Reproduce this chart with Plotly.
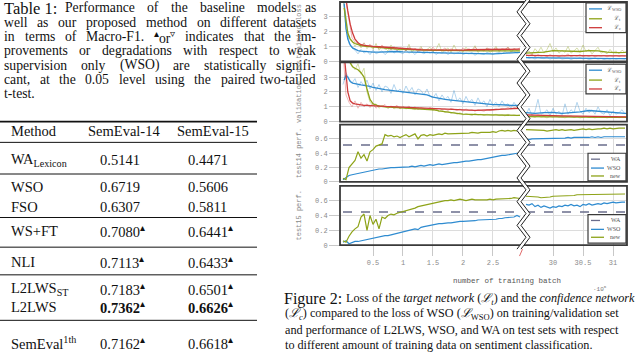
"""Recreate the Table 1 / Figure 2 page crop: baseline table plus L2LWS training curves."""

import re

import plotly.graph_objects as go

W, H = 640, 352

# ---------------- table data ----------------
methods = ["WA<sub>Lexicon</sub>", "WSO", "FSO", "WS+FT", "NLI", "L2LWS<sub>ST</sub>", "L2LWS", "SemEval<sup>1th</sup>"]
semeval14 = [0.5141, 0.6719, 0.6307, 0.7080, 0.7113, 0.7183, 0.7362, 0.7162]
semeval15 = [0.4471, 0.5606, 0.5811, 0.6441, 0.6433, 0.6501, 0.6626, 0.6618]
significant = [False, False, False, True, True, True, True, True]
best = [False, False, False, False, False, False, True, False]

# ---------------- figure data ----------------
batch_left = [0.0, 0.05, 0.1, 0.15, 0.2, 0.25, 0.3, 0.35, 0.4, 0.45,
              0.5, 0.55, 0.6, 0.65, 0.7, 0.75, 0.8, 0.85, 0.9, 0.95,
              1.0, 1.05, 1.1, 1.15, 1.2, 1.25, 1.3, 1.35, 1.4, 1.45,
              1.5, 1.55, 1.6, 1.65, 1.7, 1.75, 1.8, 1.85, 1.9, 1.95,
              2.0, 2.05, 2.1, 2.15, 2.2, 2.25, 2.3, 2.35, 2.4, 2.45,
              2.5, 2.55, 2.6, 2.65, 2.7, 2.75, 2.8, 2.85, 2.9, 2.95]
batch_right = [29.55, 29.6, 29.65, 29.7, 29.75, 29.8, 29.85, 29.9, 29.95, 30.0,
               30.05, 30.1, 30.15, 30.2, 30.25, 30.3, 30.35, 30.4, 30.45, 30.5,
               30.55, 30.6, 30.65, 30.7, 30.75, 30.8, 30.85, 30.9, 30.95, 31.0,
               31.05, 31.1, 31.15, 31.2]
smooth_left = [0.02, 0.05, 0.08, 0.12, 0.16, 0.2, 0.25, 0.3, 0.35, 0.4,
               0.45, 0.5, 0.6, 0.7, 0.8, 0.9, 1.0, 1.1, 1.2, 1.3,
               1.4, 1.5, 1.6, 1.7, 1.8, 1.9, 2.0, 2.1, 2.2, 2.3,
               2.4, 2.5, 2.6, 2.7, 2.8, 2.9, 2.95]
smooth_right = [29.55, 29.7, 29.85, 30.0, 30.15, 30.3, 30.45, 30.6, 30.75, 30.9, 31.05, 31.2, 31.23]

# training loss, raw (faint) and smoothed
train_wso_raw_left = [4.2, 3.0, 1.2, 0.9, 0.75, 0.5, 0.8, 0.55, 0.7, 0.45,
                      0.75, 0.5, 0.6, 0.7, 0.45, 0.65, 0.8, 0.55, 0.7, 0.6,
                      0.5, 0.75, 0.55, 0.65, 0.45, 0.7, 0.6, 0.5, 0.65, 0.55,
                      0.7, 0.45, 0.6, 0.55, 0.65, 0.45, 0.6, 0.5, 0.55, 0.65,
                      0.45, 0.55, 0.5, 0.6, 0.4, 0.55, 0.5, 0.45, 0.6, 0.5,
                      0.45, 0.55, 0.6, 0.5, 0.65, 0.55, 0.6, 0.7, 0.55, 0.6]
train_t_raw_left = [4.5, 2.2, 1.6, 1.4, 1.0, 1.3, 0.9, 1.2, 0.85, 1.1,
                    0.8, 1.2, 0.75, 1.0, 0.9, 0.7, 1.1, 0.8, 0.95, 0.65,
                    0.9, 0.7, 1.15, 0.6, 0.85, 0.75, 1.0, 0.6, 0.8, 0.95,
                    0.65, 0.8, 1.2, 0.6, 0.75, 0.9, 0.6, 1.1, 0.7, 0.8,
                    0.6, 0.95, 0.7, 0.75, 1.05, 0.6, 0.8, 0.7, 0.9, 0.6,
                    0.75, 1.0, 0.65, 0.8, 0.7, 0.95, 0.6, 0.85, 0.7, 0.8]
train_c_raw_left = [4.6, 4.0, 2.8, 1.6, 1.3, 1.2, 1.0, 1.25, 0.95, 1.15,
                    0.9, 1.05, 0.85, 1.1, 0.8, 0.95, 0.75, 1.0, 0.7, 0.9,
                    0.85, 0.7, 0.95, 0.75, 0.85, 0.65, 0.9, 0.75, 0.8, 0.7,
                    0.95, 0.7, 0.8, 0.75, 0.9, 0.65, 0.85, 0.75, 0.8, 0.7,
                    0.9, 0.75, 0.85, 0.7, 0.95, 0.75, 0.8, 0.7, 0.9, 0.8,
                    0.75, 0.9, 0.7, 0.85, 0.8, 0.95, 0.75, 0.85, 0.8, 0.9]
train_wso_raw_right = [0.3, 0.2, 0.25, 0.15, 0.28, 0.2, 0.18, 0.25, 0.15, 0.22,
                       0.18, 0.25, 0.15, 0.2, 0.22, 0.12, 0.2, 0.18, 0.25, 0.15,
                       0.2, 0.12, 0.18, 0.22, 0.15, 0.2, 0.12, 0.18, 0.15, 0.22,
                       0.15, 0.2, 0.18, 0.15]
train_t_raw_right = [0.5, 0.7, 0.45, 0.85, 0.6, 0.95, 0.55, 0.8, 1.2, 0.65,
                     0.9, 0.55, 0.75, 0.6, 1.0, 0.55, 0.7, 0.9, 0.6, 1.1,
                     0.65, 0.8, 0.5, 0.75, 0.95, 0.55, 0.65, 0.5, 0.8, 0.55,
                     0.7, 0.5, 0.75, 0.6]
train_c_raw_right = [0.45, 0.35, 0.5, 0.3, 0.45, 0.35, 0.4, 0.3, 0.45, 0.35,
                     0.4, 0.3, 0.42, 0.35, 0.5, 0.3, 0.4, 0.35, 0.45, 0.3,
                     0.38, 0.32, 0.42, 0.3, 0.38, 0.35, 0.4, 0.3, 0.38, 0.33,
                     0.4, 0.32, 0.38, 0.35]
train_wso_left = [3.9, 2.2, 1.5, 1.1, 0.9, 0.8, 0.72, 0.68, 0.66, 0.65,
                  0.64, 0.62, 0.62, 0.63, 0.68, 0.66, 0.63, 0.61, 0.6, 0.6,
                  0.58, 0.58, 0.57, 0.56, 0.55, 0.53, 0.52, 0.5, 0.5, 0.5,
                  0.48, 0.5, 0.52, 0.55, 0.58, 0.6, 0.6]
train_t_left = [3.6, 2.6, 1.9, 1.5, 1.3, 1.2, 1.1, 1.05, 1.02, 1.0,
                0.97, 0.95, 0.92, 0.88, 0.85, 0.82, 0.8, 0.78, 0.76, 0.75,
                0.75, 0.74, 0.73, 0.72, 0.72, 0.72, 0.72, 0.71, 0.71, 0.7,
                0.7, 0.7, 0.7, 0.7, 0.7, 0.7, 0.7]
train_c_left = [4.5, 4.2, 3.4, 2.5, 1.9, 1.5, 1.25, 1.12, 1.08, 1.05,
                1.02, 1.0, 0.98, 0.95, 0.9, 0.86, 0.83, 0.8, 0.78, 0.78,
                0.77, 0.76, 0.77, 0.78, 0.77, 0.76, 0.76, 0.78, 0.79, 0.8,
                0.8, 0.8, 0.8, 0.8, 0.82, 0.82, 0.82]
train_wso_right = [0.25, 0.24, 0.23, 0.22, 0.2, 0.2, 0.2, 0.18, 0.17, 0.17, 0.18, 0.18, 0.18]
train_t_right = [0.55, 0.58, 0.62, 0.72, 0.7, 0.65, 0.66, 0.72, 0.7, 0.62, 0.58, 0.6, 0.62]
train_c_right = [0.4, 0.38, 0.37, 0.36, 0.37, 0.38, 0.37, 0.36, 0.35, 0.35, 0.36, 0.36, 0.36]

# validation loss, raw (faint) and smoothed
valid_wso_raw_left = [2.5, 3.3, 2.9, 2.6, 2.9, 2.3, 2.7, 2.4, 2.8, 2.2,
                      2.6, 2.1, 2.5, 2.0, 2.4, 2.3, 1.9, 2.5, 2.0, 2.2,
                      1.9, 2.4, 2.0, 2.3, 1.8, 2.2, 2.1, 1.8, 2.2, 1.7,
                      1.6, 1.9, 1.4, 1.8, 1.5, 1.7, 1.3, 2.1, 1.4, 1.6,
                      1.2, 1.7, 1.3, 1.5, 1.1, 1.6, 1.2, 1.4, 1.0, 1.5,
                      1.1, 1.3, 1.0, 1.4, 1.1, 1.2, 0.9, 1.3, 1.0, 1.2]
valid_t_raw_left = [4.8, 4.5, 4.3, 3.8, 3.5, 3.9, 3.2, 3.6, 2.0, 1.3,
                    1.1, 1.2, 0.9, 1.1, 1.0, 0.9, 1.05, 0.85, 1.0, 0.9,
                    1.0, 0.85, 0.95, 0.9, 0.8, 0.95, 0.85, 0.9, 0.8, 0.9,
                    0.75, 0.85, 0.65, 0.8, 0.6, 0.7, 0.55, 0.65, 0.5, 0.6,
                    0.45, 0.55, 0.5, 0.4, 0.55, 0.45, 0.5, 0.4, 0.5, 0.45,
                    0.4, 0.5, 0.4, 0.45, 0.38, 0.5, 0.4, 0.45, 0.4, 0.45]
valid_c_raw_left = [4.8, 1.8, 1.3, 1.0, 1.4, 0.9, 1.3, 1.0, 1.2, 0.95,
                    1.25, 0.9, 1.1, 1.0, 1.15, 0.9, 1.05, 0.95, 1.1, 0.85,
                    1.0, 0.9, 1.05, 0.85, 1.0, 0.8, 0.95, 0.9, 0.8, 0.95,
                    0.85, 0.75, 0.9, 0.8, 0.85, 0.75, 0.9, 0.8, 0.75, 0.85,
                    0.7, 0.85, 0.75, 0.8, 0.7, 0.8, 0.75, 0.7, 0.8, 0.75,
                    0.8, 0.85, 0.8, 0.9, 0.85, 0.95, 0.85, 0.95, 0.9, 1.0]
valid_wso_raw_right = [0.5, 0.9, 0.4, 0.7, 1.5, 0.5, 0.6, 0.8, 0.4, 0.9,
                       0.5, 0.7, 0.4, 1.2, 0.5, 0.8, 0.6, 1.3, 0.7, 0.5,
                       0.9, 0.6, 0.8, 0.5, 1.0, 0.6, 0.5, 0.8, 0.4, 0.7,
                       0.5, 0.6, 0.8, 0.5]
valid_t_raw_right = [0.4, 0.3, 0.35, 0.28, 0.4, 0.3, 0.33, 0.25, 0.35, 0.3,
                     0.38, 0.28, 0.32, 0.25, 0.35, 0.3, 0.28, 0.33, 0.25, 0.3,
                     0.35, 0.28, 0.3, 0.25, 0.32, 0.28, 0.3, 0.25, 0.3, 0.27,
                     0.32, 0.26, 0.3, 0.28]
valid_c_raw_right = [0.5, 0.4, 0.45, 0.38, 0.45, 0.4, 0.35, 0.42, 0.35, 0.4,
                     0.33, 0.38, 0.3, 0.36, 0.33, 0.38, 0.3, 0.35, 0.32, 0.3,
                     0.36, 0.3, 0.33, 0.28, 0.32, 0.3, 0.28, 0.34, 0.3, 0.28,
                     0.32, 0.3, 0.28, 0.3]
valid_wso_left = [2.8, 3.1, 3.0, 2.7, 2.6, 2.55, 2.5, 2.47, 2.45, 2.42,
                  2.38, 2.3, 2.2, 2.15, 2.1, 2.05, 2.0, 2.0, 1.95, 1.9,
                  1.8, 1.65, 1.55, 1.5, 1.45, 1.4, 1.35, 1.3, 1.3, 1.25,
                  1.2, 1.15, 1.15, 1.1, 1.1, 1.1, 1.1]
valid_t_left = [4.6, 4.4, 4.2, 3.9, 3.7, 3.6, 3.5, 3.3, 3.0, 2.2,
                1.5, 1.2, 1.05, 1.0, 0.98, 0.95, 0.95, 0.92, 0.9, 0.88,
                0.85, 0.8, 0.72, 0.65, 0.6, 0.55, 0.5, 0.48, 0.45, 0.45,
                0.45, 0.45, 0.43, 0.42, 0.42, 0.42, 0.42]
valid_c_left = [4.5, 3.2, 2.0, 1.4, 1.25, 1.2, 1.15, 1.12, 1.1, 1.1,
                1.1, 1.08, 1.05, 1.02, 1.0, 0.98, 0.95, 0.93, 0.92, 0.9,
                0.88, 0.85, 0.83, 0.82, 0.8, 0.8, 0.78, 0.77, 0.76, 0.76,
                0.78, 0.8, 0.82, 0.85, 0.88, 0.9, 0.9]
valid_wso_right = [0.6, 0.55, 0.6, 0.62, 0.55, 0.58, 0.65, 0.75, 0.7, 0.6, 0.55, 0.55, 0.55]
valid_t_right = [0.34, 0.33, 0.33, 0.32, 0.32, 0.31, 0.31, 0.3, 0.3, 0.3, 0.29, 0.29, 0.29]
valid_c_right = [0.45, 0.42, 0.4, 0.4, 0.38, 0.37, 0.36, 0.35, 0.34, 0.33, 0.32, 0.32, 0.32]

# test performance (Macro-F1)
test14_new_left = [0.05, 0.03, 0.2, 0.25, 0.3, 0.42, 0.33, 0.38, 0.29, 0.42,
                   0.45, 0.5, 0.52, 0.53, 0.66, 0.64, 0.65, 0.63, 0.64, 0.62,
                   0.64, 0.66, 0.63, 0.65, 0.67, 0.6, 0.65, 0.66, 0.64, 0.66,
                   0.65, 0.66, 0.67, 0.66, 0.68, 0.67, 0.67, 0.68, 0.67, 0.68,
                   0.68, 0.67, 0.68, 0.69, 0.68, 0.68, 0.69, 0.69, 0.68, 0.69,
                   0.7, 0.69, 0.71, 0.72, 0.71, 0.72, 0.71, 0.72, 0.71, 0.71]
test14_new_right = [0.73, 0.73, 0.72, 0.73, 0.72, 0.72, 0.72, 0.71, 0.72, 0.72,
                    0.73, 0.72, 0.73, 0.72, 0.73, 0.73, 0.72, 0.73, 0.73, 0.74,
                    0.73, 0.74, 0.73, 0.74, 0.74, 0.74, 0.75, 0.74, 0.75, 0.74,
                    0.75, 0.75, 0.75, 0.75]
test14_wso_left = [0.03, 0.06, 0.09, 0.1, 0.11, 0.12, 0.13, 0.14, 0.15, 0.16,
                   0.16, 0.17, 0.18, 0.18, 0.19, 0.19, 0.2, 0.2, 0.2, 0.21,
                   0.21, 0.2, 0.21, 0.22, 0.21, 0.22, 0.23, 0.22, 0.23, 0.24,
                   0.23, 0.24, 0.25, 0.24, 0.25, 0.26, 0.26, 0.27, 0.27, 0.28,
                   0.28, 0.29, 0.29, 0.3, 0.3, 0.31, 0.31, 0.32, 0.33, 0.33,
                   0.34, 0.35, 0.36, 0.37, 0.37, 0.38, 0.39, 0.39, 0.4, 0.4]
test14_wso_right = [0.6, 0.59, 0.6, 0.6, 0.61, 0.6, 0.6, 0.61, 0.6, 0.61,
                    0.61, 0.6, 0.61, 0.61, 0.62, 0.61, 0.62, 0.62, 0.61, 0.62,
                    0.62, 0.62, 0.63, 0.62, 0.63, 0.62, 0.63, 0.63, 0.63, 0.62,
                    0.63, 0.63, 0.63, 0.63]
test15_new_left = [0.06, 0.04, 0.12, 0.18, 0.22, 0.25, 0.38, 0.42, 0.2, 0.4,
                   0.28, 0.35, 0.22, 0.38, 0.36, 0.4, 0.42, 0.41, 0.43, 0.44,
                   0.45, 0.46, 0.47, 0.48, 0.5, 0.52, 0.53, 0.54, 0.55, 0.56,
                   0.57, 0.58, 0.58, 0.59, 0.6, 0.6, 0.61, 0.6, 0.61, 0.62,
                   0.61, 0.6, 0.61, 0.62, 0.61, 0.61, 0.6, 0.61, 0.61, 0.62,
                   0.61, 0.62, 0.62, 0.63, 0.62, 0.63, 0.63, 0.64, 0.63, 0.63]
test15_new_right = [0.66, 0.66, 0.66, 0.65, 0.65, 0.64, 0.64, 0.65, 0.65, 0.66,
                    0.66, 0.66, 0.67, 0.67, 0.67, 0.67, 0.67, 0.68, 0.68, 0.68,
                    0.68, 0.68, 0.68, 0.68, 0.69, 0.69, 0.69, 0.69, 0.69, 0.69,
                    0.69, 0.69, 0.69, 0.69]
test15_wso_left = [0.04, 0.06, 0.02, 0.04, 0.05, 0.05, 0.06, 0.07, 0.08, 0.09,
                   0.1, 0.1, 0.11, 0.12, 0.13, 0.13, 0.14, 0.15, 0.15, 0.16,
                   0.17, 0.18, 0.19, 0.2, 0.22, 0.21, 0.24, 0.25, 0.26, 0.27,
                   0.28, 0.28, 0.29, 0.29, 0.3, 0.3, 0.3, 0.31, 0.31, 0.32,
                   0.32, 0.32, 0.33, 0.33, 0.33, 0.34, 0.34, 0.34, 0.34, 0.35,
                   0.35, 0.35, 0.36, 0.36, 0.37, 0.37, 0.38, 0.38, 0.4, 0.38]
test15_wso_right = [0.55, 0.54, 0.56, 0.52, 0.54, 0.51, 0.53, 0.52, 0.5, 0.52,
                    0.51, 0.53, 0.52, 0.54, 0.53, 0.55, 0.53, 0.54, 0.52, 0.55,
                    0.54, 0.56, 0.54, 0.55, 0.56, 0.55, 0.57, 0.56, 0.57, 0.58,
                    0.57, 0.58, 0.58, 0.58]
WA_SEMEVAL14 = semeval14[0]
WA_SEMEVAL15 = semeval15[0]

left_ticks = [0.5, 1, 1.5, 2, 2.5]
left_ticktext = ["0.5", "1", "1.5", "2", "2.5"]
right_ticks = [30, 30.5, 31]
right_ticktext = ["30", "30.5", "31"]
loss_ticks = [0, 1, 2, 3]
loss_ticktext = ["0", "1", "2", "3"]
perf_ticks = [0, 0.2, 0.4, 0.6]
perf_ticktext = ["0", "0.2", "0.4", "0.6"]

BLUE = "#2e8bd0"
OLIVE = "#8ea318"
RED = "#cf3b3b"
WA_COLOR = "#6a6d8c"
GRID = "#dcdcdc"
SERIF = "Liberation Serif"
MONO = "Liberation Mono"

# rough Times advance widths (em), used only to spread justified caption words
TIMES = dict(zip("abcdefghijklmnopqrstuvwxyz",
                 [.444, .5, .444, .5, .444, .333, .5, .5, .278, .278, .5, .278, .778,
                  .5, .5, .5, .5, .333, .389, .278, .5, .5, .722, .5, .5, .444]))
TIMES.update(zip("ABCDEFGHIJKLMNOPQRSTUVWXYZ",
                 [.722, .667, .667, .722, .611, .556, .722, .722, .333, .389, .722, .611, .889,
                  .722, .722, .556, .722, .667, .556, .611, .722, .722, .944, .722, .722, .611]))
TIMES.update({".": .25, ",": .25, "-": .333, "(": .333, ")": .333, ":": .278, "/": .278,
              "▴": .35, "▿": .35})


def fx(px):
    return px / W


def fy(py):
    return 1 - py / H


def text(x, y, s, size=14.5, family=SERIF, color="#111", anchor="left", angle=0):
    return dict(x=fx(x), y=fy(y), xref="paper", yref="paper", text=s, showarrow=False,
                xanchor=anchor, yanchor="middle", textangle=angle,
                font=dict(family=family, size=size, color=color))


def hline(x0, x1, y, width=1, color="#111", dash="solid"):
    return dict(type="line", xref="paper", yref="paper", x0=fx(x0), x1=fx(x1), y0=fy(y), y1=fy(y),
                line=dict(color=color, width=width, dash=dash))


def word_width(word, size):
    plain = re.sub(r"<[^>]+>", "", word)
    return sum(TIMES.get(c, 0.5) for c in plain) * size


def justified(x0, x1, y, line_text, size):
    """Spread the words of one caption line so it runs from x0 to x1, like the typeset page."""
    words = line_text.split(" ")
    widths = [word_width(w, size) for w in words]
    gap = (x1 - x0 - sum(widths)) / max(len(words) - 1, 1)
    out, x = [], x0
    for w, wd in zip(words, widths):
        out.append(text(x, y, w, size=size))
        x += wd + gap
    out[-1] = text(x1, y, words[-1], size=size, anchor="right")
    return out


fig = go.Figure()
annotations = []
shapes = []

# ---------------- Table 1 ----------------
CAP = 13.7
annotations.append(text(2, 8.5, "Table 1:", size=16.5))
annotations += justified(63, 318, 8, "Performance of the baseline models as", CAP)
annotations += justified(2, 318, 22.5, "well as our proposed method on different datasets", CAP)
annotations += justified(2, 318, 37, "in terms of Macro-F1. <sup>▴</sup>or<sup>▿</sup> indicates that the im-", CAP)
annotations += justified(2, 318, 51.5, "provements or degradations with respect to weak", CAP)
annotations += justified(2, 318, 66, "supervision only (WSO) are statistically signifi-", CAP)
annotations += justified(2, 318, 80.5, "cant, at the 0.05 level using the paired two-tailed", CAP)
annotations.append(text(2, 95, "t-test.", size=CAP))

annotations += [text(9, 132, "Method"), text(124, 132, "SemEval-14", anchor="center"),
                text(213, 132, "SemEval-15", anchor="center")]
row_y = [162, 189, 209, 234, 265, 292, 311, 346.5]
for name, v14, v15, sig, bold, y in zip(methods, semeval14, semeval15, significant, best, row_y):
    mark = "<sup>▴</sup>" if sig else ""
    s14, s15 = f"{v14:.4f}", f"{v15:.4f}"
    if bold:
        s14, s15 = f"<b>{s14}</b>", f"<b>{s15}</b>"
    annotations += [text(9, y, name), text(98, y, s14 + mark), text(186, y, s15 + mark)]
shapes.append(hline(0, 257, 123, width=1.6))
for y in [144, 176, 220, 250, 278, 324]:
    shapes.append(hline(0, 257, y, width=1))

# ---------------- Figure 2 ----------------
PANELS = [(2, 62, [0, 4], loss_ticks, loss_ticktext, "training loss"),
          (63, 123, [0, 4], loss_ticks, loss_ticktext, "validation loss"),
          (126, 184, [0, 0.8], perf_ticks, perf_ticktext, "test14 perf."),
          (188, 248, [0, 0.8], perf_ticks, perf_ticktext, "test15 perf.")]
SEGMENTS = [((340, 521), [-0.05, 2.967], left_ticks, left_ticktext),
            ((523, 627), [29.5, 31.233], right_ticks, right_ticktext)]
tick_font = dict(family=MONO, size=7, color="#8a8a8a")

axes = {}
for i, (top, bottom, yr, ytv, ytt, title) in enumerate(PANELS):
    for j, (dom, xr, xtv, xtt) in enumerate(SEGMENTS):
        n = 2 * i + j + 1
        sfx = "" if n == 1 else str(n)
        last = i == len(PANELS) - 1
        axes[f"xaxis{sfx}"] = dict(domain=[fx(dom[0]), fx(dom[1])], range=xr, anchor=f"y{sfx}",
                                   tickvals=xtv, ticktext=xtt, showticklabels=last,
                                   ticks="outside" if last else "", ticklen=10, tickcolor="#c8c8c8",
                                   showgrid=True, gridcolor=GRID, gridwidth=0.8, zeroline=False,
                                   showline=False, tickfont=tick_font, fixedrange=True)
        axes[f"yaxis{sfx}"] = dict(domain=[fy(bottom), fy(top)], range=yr, anchor=f"x{sfx}",
                                   tickvals=ytv, ticktext=ytt, showticklabels=j == 0,
                                   ticks="outside" if j == 0 else "", ticklen=10, tickcolor="#c8c8c8",
                                   showgrid=True, gridcolor=GRID, gridwidth=0.8, zeroline=False,
                                   showline=False, tickfont=tick_font, fixedrange=True)
    shapes.append(dict(type="rect", xref="paper", yref="paper", x0=fx(340), x1=fx(627),
                       y0=fy(bottom), y1=fy(top), line=dict(color="#3a3a3a", width=1.8), layer="above"))
    annotations.append(text(299, (top + bottom) / 2, title, size=7, family=MONO, color="#8a8a8a",
                            anchor="center", angle=-90))


def line(x, y, n, color, width=1.3, opacity=1.0, dash="solid"):
    sfx = "" if n == 1 else str(n)
    fig.add_trace(go.Scatter(x=x, y=y, mode="lines", xaxis=f"x{sfx}", yaxis=f"y{sfx}",
                             line=dict(color=color, width=width, dash=dash), opacity=opacity,
                             showlegend=False, hoverinfo="skip"))


# panel 1: training loss
line(batch_left, train_wso_raw_left, 1, BLUE, 0.8, 0.45)
line(batch_left, train_t_raw_left, 1, OLIVE, 0.8, 0.45)
line(batch_left, train_c_raw_left, 1, RED, 0.8, 0.45)
line(batch_right, train_wso_raw_right, 2, BLUE, 0.8, 0.45)
line(batch_right, train_t_raw_right, 2, OLIVE, 0.8, 0.45)
line(batch_right, train_c_raw_right, 2, RED, 0.8, 0.45)
line(smooth_left, train_wso_left, 1, BLUE)
line(smooth_left, train_t_left, 1, OLIVE)
line(smooth_left, train_c_left, 1, RED)
line(smooth_right, train_wso_right, 2, BLUE)
line(smooth_right, train_t_right, 2, OLIVE)
line(smooth_right, train_c_right, 2, RED)

# panel 2: validation loss
line(batch_left, valid_wso_raw_left, 3, BLUE, 0.8, 0.45)
line(batch_left, valid_t_raw_left, 3, OLIVE, 0.8, 0.45)
line(batch_left, valid_c_raw_left, 3, RED, 0.8, 0.45)
line(batch_right, valid_wso_raw_right, 4, BLUE, 0.8, 0.45)
line(batch_right, valid_t_raw_right, 4, OLIVE, 0.8, 0.45)
line(batch_right, valid_c_raw_right, 4, RED, 0.8, 0.45)
line(smooth_left, valid_wso_left, 3, BLUE)
line(smooth_left, valid_t_left, 3, OLIVE)
line(smooth_left, valid_c_left, 3, RED)
line(smooth_right, valid_wso_right, 4, BLUE)
line(smooth_right, valid_t_right, 4, OLIVE)
line(smooth_right, valid_c_right, 4, RED)

# panels 3 and 4: test performance
for n, wa, new_l, new_r, wso_l, wso_r in [
        (5, WA_SEMEVAL14, test14_new_left, test14_new_right, test14_wso_left, test14_wso_right),
        (7, WA_SEMEVAL15, test15_new_left, test15_new_right, test15_wso_left, test15_wso_right)]:
    line([batch_left[0], batch_left[-1]], [wa, wa], n, WA_COLOR, 1.6, dash="dash")
    line([batch_right[0], batch_right[-1]], [wa, wa], n + 1, WA_COLOR, 1.6, dash="dash")
    line(batch_left, wso_l, n, BLUE, 1.2)
    line(batch_right, wso_r, n + 1, BLUE, 1.2)
    line(batch_left, new_l, n, OLIVE, 1.2)
    line(batch_right, new_r, n + 1, OLIVE, 1.2)

# broken-axis zigzag
zig_y = list(range(0, 253, 12))
left_pts = [(517 if k % 2 else 526, y) for k, y in enumerate(zig_y)]
right_pts = [(x + 4, y) for x, y in left_pts]


def path(points, close=False):
    p = "M " + " L ".join(f"{fx(x):.5f},{fy(y):.5f}" for x, y in points)
    return p + (" Z" if close else "")


shapes.append(dict(type="path", xref="paper", yref="paper", path=path(left_pts + right_pts[::-1], True),
                   fillcolor="white", line=dict(width=0), layer="above"))
for pts in (left_pts, right_pts):
    shapes.append(dict(type="path", xref="paper", yref="paper", path=path(pts),
                       line=dict(color="#222", width=1), layer="above"))
shapes.append(dict(type="line", xref="paper", yref="paper", x0=fx(519.5), x1=fx(522.5),
                   y0=fy(259), y1=fy(252), line=dict(color="#e06a6a", width=1)))

# legends
LEGENDS = [((586, 3, 626, 33), [(9, BLUE, "solid", "ℒ<sub>WSO</sub>"), (19, OLIVE, "solid", "ℒ<sub>t</sub>"),
                                (28, RED, "solid", "ℒ<sub>c</sub>")]),
           ((586, 65, 626, 95), [(71, BLUE, "solid", "ℒ<sub>WSO</sub>"), (81, OLIVE, "solid", "ℒ<sub>t</sub>"),
                                 (90, RED, "solid", "ℒ<sub>c</sub>")]),
           ((588, 155, 626, 183), [(161, WA_COLOR, "dash", "WA"), (170, BLUE, "solid", "WSO"),
                                   (178, OLIVE, "solid", "new")]),
           ((588, 217, 626, 246), [(223, WA_COLOR, "dash", "WA"), (232, BLUE, "solid", "WSO"),
                                   (240, OLIVE, "solid", "new")])]
for (x0, y0, x1, y1), items in LEGENDS:
    shapes.append(dict(type="rect", xref="paper", yref="paper", x0=fx(x0), x1=fx(x1), y0=fy(y1), y1=fy(y0),
                       fillcolor="white", line=dict(color="#3a3a3a", width=1.2), layer="above"))
    for y, color, dash, label in items:
        shapes.append(hline(x0 + 3, x0 + 16, y, width=1.3, color=color, dash=dash) | dict(layer="above"))
        annotations.append(text(x1 - 3, y, label, size=6, family=SERIF, color="#555", anchor="right"))

annotations.append(text(507, 284, "number of training batch", size=7.5, family=MONO, color="#555",
                        anchor="center"))
annotations.append(text(600, 292, "·10<sup>6</sup>", size=6, family=MONO, color="#777", anchor="center"))

# ---------------- Figure 2 caption ----------------
FCAP = 12.2
annotations.append(text(282, 302, "Figure 2:", size=16))
annotations.append(text(344, 302, "Loss of the <i>target network</i> (<i>ℒ<sub>t</sub></i>) and the "
                                  "<i>confidence network</i>", size=FCAP))
annotations.append(text(283, 318, "(<i>ℒ<sub>c</sub></i>) compared to the loss of WSO "
                                  "(<i>ℒ</i><sub>WSO</sub>) on training/validation set", size=FCAP))
annotations.append(text(283, 333.5, "and performance of L2LWS, WSO, and WA on test sets with respect",
                        size=FCAP))
annotations.append(text(283, 349, "to different amount of training data on sentiment classification.", size=FCAP))

fig.update_layout(width=W, height=H, margin=dict(l=0, r=0, t=0, b=0), autosize=False,
                  paper_bgcolor="white", plot_bgcolor="white", showlegend=False,
                  annotations=annotations, shapes=shapes, **axes)
# the page body has a default 8px margin; drop it so the figure sits at the window origin
fig.write_html("out.html", config={"displayModeBar": False},
               post_script="document.body.style.margin='0';document.body.style.overflow='hidden';")
